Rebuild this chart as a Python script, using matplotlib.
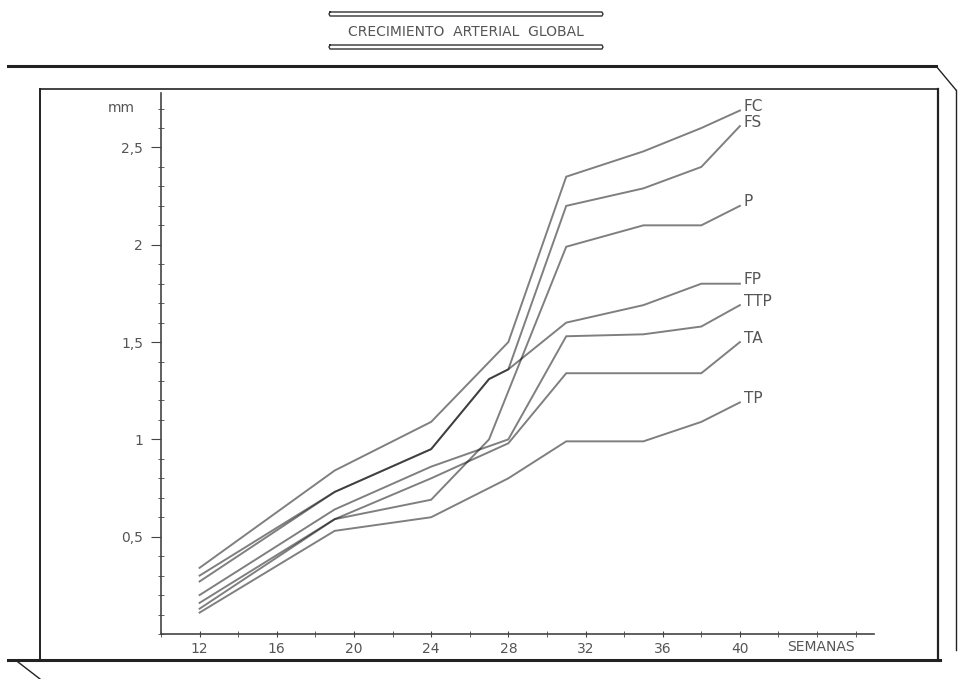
import matplotlib
matplotlib.use("Agg")
import matplotlib.pyplot as plt
from matplotlib.lines import Line2D
from matplotlib.ticker import MultipleLocator, FixedLocator

# weeks / diameters (mm)
wk_FC = [12, 19, 24, 28, 31, 35, 38, 40]
FC = [0.34, 0.84, 1.09, 1.50, 2.35, 2.48, 2.60, 2.69]

wk_FS = [12, 19, 24, 27, 28, 31, 35, 38, 40]
FS = [0.30, 0.73, 0.95, 1.31, 1.36, 2.20, 2.29, 2.40, 2.61]

wk_P = [12, 19, 20.5, 24, 27, 31, 35, 38, 40]
P = [0.13, 0.59, 0.62, 0.69, 1.00, 1.99, 2.10, 2.10, 2.20]

wk_FP = [12, 19, 24, 27, 28, 31, 35, 38, 40]
FP = [0.27, 0.73, 0.95, 1.31, 1.36, 1.60, 1.69, 1.80, 1.80]

wk_TTP = [12, 19, 24, 28, 31, 35, 38, 40]
TTP = [0.20, 0.64, 0.86, 1.00, 1.53, 1.54, 1.58, 1.69]

wk_TA = [12, 19, 24, 28, 31, 35, 38, 40]
TA = [0.16, 0.59, 0.80, 0.98, 1.34, 1.34, 1.34, 1.50]

wk_TP = [12, 19, 24, 28, 31, 35, 38, 40]
TP = [0.11, 0.53, 0.60, 0.80, 0.99, 0.99, 1.09, 1.19]

series = [("FC", wk_FC, FC), ("FS", wk_FS, FS), ("P", wk_P, P), ("FP", wk_FP, FP),
          ("TTP", wk_TTP, TTP), ("TA", wk_TA, TA), ("TP", wk_TP, TP)]

W, H = 958, 679
fig = plt.figure(figsize=(W/100, H/100), dpi=100)

def fx(px):
    return px / W
def fy(py):
    return 1 - py / H

ax = fig.add_axes([fx(161), fy(634), fx(874) - fx(161), fy(93) - fy(634)])
ax.set_xlim(10, 46.95)
ax.set_ylim(0, 2.78)

txt = '#555555'
for name, w, v in series:
    ax.plot(w, v, color='k', alpha=0.5, lw=1.4, solid_joinstyle='miter')
    ax.text(w[-1] + 0.2, v[-1] + 0.02, name, color=txt, fontsize=11, ha='left', va='center')

for s in ['top', 'right']:
    ax.spines[s].set_visible(False)
for s in ['left', 'bottom']:
    ax.spines[s].set_color('#444444')
    ax.spines[s].set_linewidth(1.2)

ax.xaxis.set_major_locator(FixedLocator([12, 16, 20, 24, 28, 32, 36, 40]))
ax.xaxis.set_minor_locator(FixedLocator(list(range(10, 47, 2))))
ax.set_xticklabels(['12', '16', '20', '24', '28', '32', '36', '40'])
ax.yaxis.set_major_locator(FixedLocator([0.5, 1, 1.5, 2, 2.5]))
ax.yaxis.set_minor_locator(MultipleLocator(0.1))
ax.set_yticklabels(['0,5', '1', '1,5', '2', '2,5'])
ax.tick_params(axis='x', which='both', direction='inout', length=4, color='#444444',
               labelsize=10, labelcolor=txt, pad=4)
ax.tick_params(axis='y', which='major', direction='out', length=7, color='#444444',
               labelsize=10, labelcolor=txt, pad=6)
ax.tick_params(axis='y', which='minor', direction='inout', length=4, color='#444444')

ax.text(42.45, -0.065, 'SEMANAS', color=txt, fontsize=10, ha='left', va='center')
fig.text(fx(121), fy(108), 'mm', color=txt, fontsize=10, ha='center', va='center')

# title with outlined bars above and below
fig.text(fx(466), fy(32), 'CRECIMIENTO  ARTERIAL  GLOBAL', color=txt, fontsize=10,
         ha='center', va='center')
for yb in (12, 45):
    xs = [330, 602, 603, 602, 330, 329, 330]
    ys = [yb, yb, yb + 2, yb + 4, yb + 4, yb + 2, yb]
    fig.add_artist(Line2D([fx(x) for x in xs], [fy(y) for y in ys],
                          color='#333333', lw=1.0))

# scanned 3D frame
frame = [
    ([40, 938], [89, 89], 1.2),
    ([40, 40], [89, 660], 1.4),
    ([938, 938], [89, 660], 1.6),
    ([8, 936], [66, 66], 2.2),
    ([936, 956], [66, 90], 1.0),
    ([956, 956], [90, 650], 1.0),
    ([8, 940], [660, 660], 2.2),
    ([18, 40], [662, 679], 1.0),
]
for xs, ys, lw in frame:
    fig.add_artist(Line2D([fx(x) for x in xs], [fy(y) for y in ys], color='#222222', lw=lw))

fig.savefig('out.png', dpi=100, facecolor='white')
